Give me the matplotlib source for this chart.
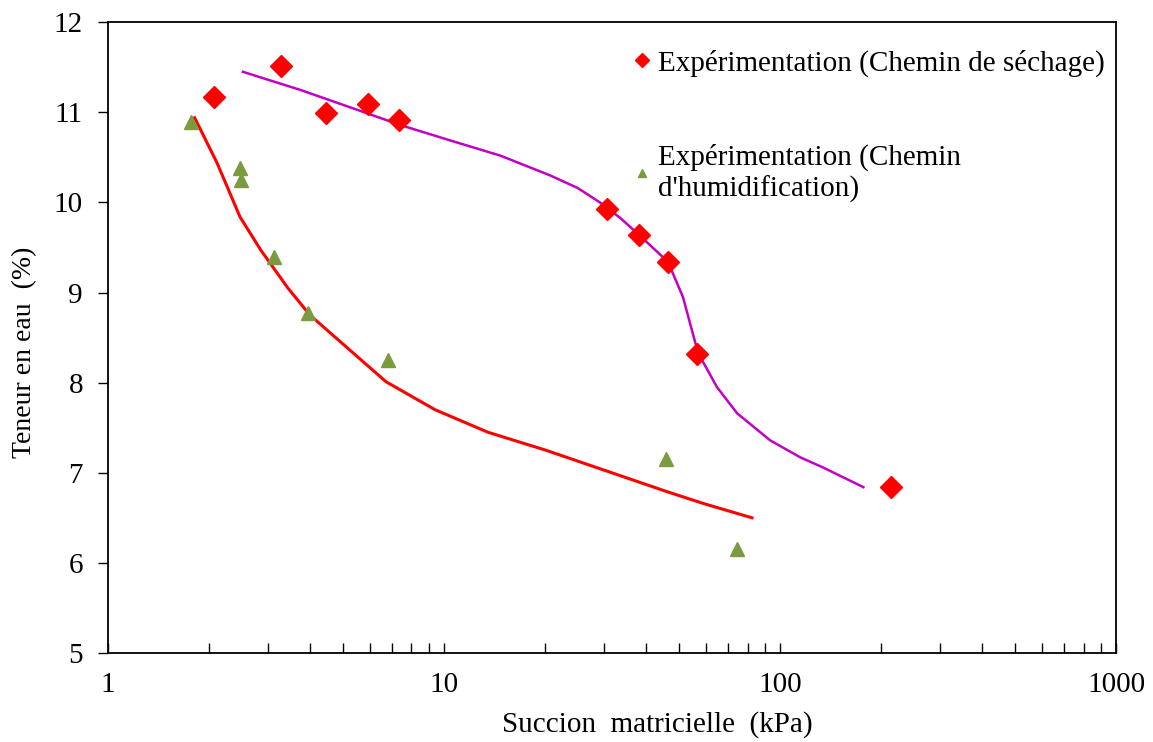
import matplotlib.pyplot as plt
from matplotlib.lines import Line2D

# measured points, drying path
dry_suction = [2.07, 3.27, 4.45, 5.94, 7.35, 30.5, 38.0, 46.4, 56.6, 214]
dry_water = [11.17, 11.52, 10.99, 11.09, 10.91, 9.93, 9.64, 9.34, 8.32, 6.84]

# measured points, wetting path
wet_suction = [1.77, 2.47, 2.49, 3.12, 3.94, 6.81, 45.8, 74.5]
wet_water = [10.89, 10.38, 10.25, 9.39, 8.77, 8.25, 7.15, 6.15]

# fitted curve, wetting
wet_fit_x = [1.81, 2.11, 2.47, 2.85, 3.43, 3.99, 5.25, 6.72, 9.40, 13.5, 20.1,
             29.9, 46.1, 59.0, 82.5]
wet_fit_y = [10.94, 10.44, 9.84, 9.47, 9.05, 8.75, 8.36, 8.01, 7.70, 7.45, 7.25,
             7.03, 6.79, 6.66, 6.50]

# fitted curve, drying
dry_fit_x = [2.52, 3.73, 5.90, 7.40, 10.4, 14.7, 20.7, 25.0, 29.1, 33.4, 38.3,
             46.4, 51.4, 57.0, 64.9, 74.5, 93.4, 115, 134, 177]
dry_fit_y = [11.45, 11.25, 10.99, 10.86, 10.69, 10.52, 10.30, 10.16, 10.00, 9.83,
             9.63, 9.34, 8.95, 8.33, 7.95, 7.66, 7.36, 7.17, 7.06, 6.84]

plt.rcParams["font.family"] = ["Liberation Serif", "DejaVu Serif"]

fig = plt.figure(figsize=(11.53, 7.42), dpi=100)
ax = fig.add_axes([0.0937, 0.120, 0.968 - 0.0937, 0.970 - 0.120])

red = "#ff0000"
magenta = "#c400c4"
green = "#7c9a3e"

ax.plot(wet_fit_x, wet_fit_y, color=red, lw=2.2, zorder=2)
ax.plot(dry_fit_x, dry_fit_y, color=magenta, lw=1.8, zorder=2)
ax.plot(dry_suction, dry_water, ls="none", marker="D", ms=11, color=red, zorder=3)
ax.plot(wet_suction, wet_water, ls="none", marker="^", ms=10, color=green, zorder=3)

ax.set_xscale("log")
ax.set_xlim(1, 1000)
ax.set_ylim(5, 12)
ax.set_xticks([1, 10, 100, 1000])
ax.set_xticklabels(["1", "10", "100", "1000"])
ax.set_yticks(range(5, 13))

ax.tick_params(axis="x", which="both", direction="in", length=7, width=1,
               top=False, labelsize=21, pad=14)
ax.tick_params(axis="y", direction="out", length=7, width=1, right=False,
               labelsize=21, pad=11)
ax.tick_params(axis="y", which="minor", left=False)
for s in ax.spines.values():
    s.set_linewidth(1.3)

ax.set_xlabel("Succion  matricielle  (kPa)", fontsize=21, va="center")
ax.xaxis.set_label_coords(0.545, -0.114)
ax.set_ylabel("Teneur en eau  (%)", fontsize=20, va="center")
ax.yaxis.set_label_coords(-0.083, 0.477)

handles = [
    Line2D([], [], ls="none", marker="D", ms=7, color=red),
    Line2D([], [], ls="none", marker="^", ms=6, color=green),
]
labels = ["Expérimentation (Chemin de séchage)",
          "Expérimentation (Chemin\nd'humidification)"]
ax.legend(handles, labels, loc="upper left", bbox_to_anchor=(0.511, 0.975),
          frameon=False, fontsize=21, handlelength=0.5, handletextpad=0.3,
          labelspacing=2.3, borderaxespad=0)

fig.savefig("out.png", dpi=100)
